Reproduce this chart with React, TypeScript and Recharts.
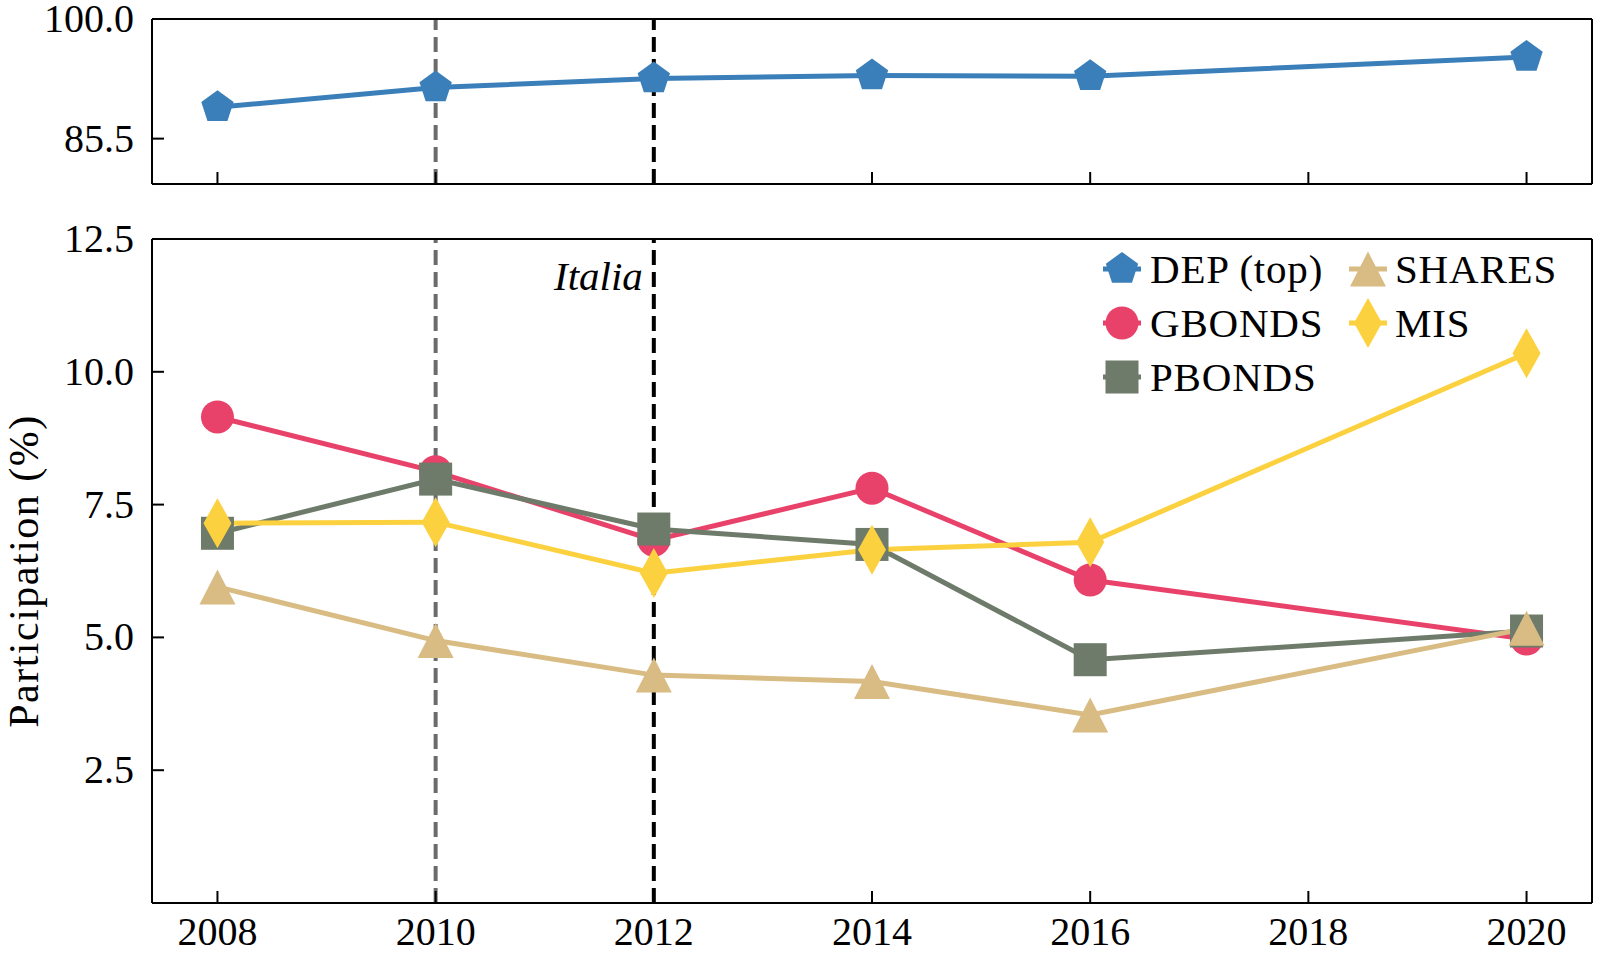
import React from 'react';
import { LineChart, Line, XAxis, YAxis, ReferenceLine } from 'recharts';

const years = [2008, 2010, 2012, 2014, 2016, 2020];
const depValues = [89.3, 91.7, 92.8, 93.15, 93.05, 95.4];
const gbondsValues = [9.15, 8.12, 6.83, 7.81, 6.08, 4.97];
const pbondsValues = [6.96, 7.98, 7.04, 6.75, 4.58, 5.12];
const sharesValues = [5.95, 4.94, 4.29, 4.17, 3.54, 5.17];
const misValues = [7.15, 7.17, 6.21, 6.65, 6.79, 10.35];
const xTicks = [2008, 2010, 2012, 2014, 2016, 2018, 2020];
const topTicks = [85.5, 100];
const bottomTicks = [2.5, 5, 7.5, 10, 12.5];
const xDomain = [2007.4, 2020.6];
const topDomain = [80, 100];
const bottomDomain = [0, 12.5];

const FONT = '"Liberation Serif", "Times New Roman", serif';
const COLORS: Record<string, string> = {
  dep: '#3a7fb9',
  gbonds: '#e8426a',
  pbonds: '#6e7a6a',
  shares: '#d9bc83',
  mis: '#fcd140',
};
const SHAPES: Record<string, string> = {
  dep: 'pentagon',
  gbonds: 'circle',
  pbonds: 'square',
  shares: 'triangle',
  mis: 'diamond',
};
const legendItems = [
  { key: 'dep', label: 'DEP (top)' },
  { key: 'gbonds', label: 'GBONDS' },
  { key: 'pbonds', label: 'PBONDS' },
  { key: 'shares', label: 'SHARES' },
  { key: 'mis', label: 'MIS' },
];

const data = years.map((y, i) => ({
  year: y,
  dep: depValues[i],
  gbonds: gbondsValues[i],
  pbonds: pbondsValues[i],
  shares: sharesValues[i],
  mis: misValues[i],
}));

function Marker({ shape, cx, cy, color }: { shape: string; cx: number; cy: number; color: string }) {
  switch (shape) {
    case 'circle':
      return <circle cx={cx} cy={cy} r={16.5} fill={color} />;
    case 'square':
      return <rect x={cx - 16.5} y={cy - 16.5} width={33} height={33} fill={color} />;
    case 'triangle':
      return (
        <polygon
          points={`${cx},${cy - 17.5} ${cx - 18},${cy + 17.5} ${cx + 18},${cy + 17.5}`}
          fill={color}
        />
      );
    case 'diamond':
      return (
        <polygon
          points={`${cx},${cy - 25} ${cx + 14},${cy} ${cx},${cy + 25} ${cx - 14},${cy}`}
          fill={color}
        />
      );
    default: {
      const R = 17;
      const pts = [0, 1, 2, 3, 4]
        .map((i) => {
          const a = ((-90 + 72 * i) * Math.PI) / 180;
          return `${cx + R * Math.cos(a)},${cy + R * Math.sin(a)}`;
        })
        .join(' ');
      return <polygon points={pts} fill={color} />;
    }
  }
}

const makeDot = (key: string) => (props: any) => (
  <Marker key={`${key}-${props.index}`} shape={SHAPES[key]} cx={props.cx} cy={props.cy} color={COLORS[key]} />
);

const YTick = (props: any) => {
  const { x, y, payload } = props;
  return (
    <g>
      <line x1={x} x2={x + 12} y1={y} y2={y} stroke="#000" strokeWidth={2} />
      <text x={x - 18} y={y + 13} textAnchor="end" fontFamily={FONT} fontSize={40} fill="#000">
        {Number(payload.value).toFixed(1)}
      </text>
    </g>
  );
};

const XTick = (props: any) => {
  const { x, y, payload } = props;
  return (
    <g>
      <line x1={x} x2={x} y1={y} y2={y - 12} stroke="#000" strokeWidth={2} />
      <text x={x} y={y + 42} textAnchor="middle" fontFamily={FONT} fontSize={40} fill="#000">
        {payload.value}
      </text>
    </g>
  );
};

const XTickNoLabel = (props: any) => {
  const { x, y } = props;
  return <line x1={x} x2={x} y1={y} y2={y - 12} stroke="#000" strokeWidth={2} />;
};

const ItaliaLabel = (props: any) => {
  const vb = props.viewBox || {};
  return (
    <text
      x={(vb.x ?? 0) - 11}
      y={(vb.y ?? 0) + 51}
      textAnchor="end"
      fontFamily={FONT}
      fontStyle="italic"
      fontSize={41}
      fill="#000"
    >
      Italia
    </text>
  );
};

const axisLine = { stroke: '#000', strokeWidth: 2 };

export default function App() {
  return (
    <div style={{ position: 'absolute', left: 0, top: 0, width: 1600, height: 953, background: '#fff' }}>
      <div style={{ position: 'absolute', left: 0, top: 0 }}>
        <LineChart width={1600} height={200} data={data} margin={{ top: 18, right: 7, bottom: 15, left: 0 }}>
          <XAxis
            dataKey="year"
            type="number"
            domain={xDomain}
            ticks={xTicks}
            interval={0}
            height={1}
            tickSize={0}
            tickMargin={0}
            tickLine={false}
            tick={XTickNoLabel}
            axisLine={axisLine}
            allowDataOverflow
          />
          <XAxis
            xAxisId="top"
            orientation="top"
            dataKey="year"
            type="number"
            domain={xDomain}
            height={1}
            tick={false}
            tickLine={false}
            axisLine={axisLine}
            allowDataOverflow
          />
          <YAxis
            type="number"
            domain={topDomain}
            ticks={topTicks}
            interval={0}
            width={152}
            tickSize={0}
            tickMargin={0}
            tickLine={false}
            tick={YTick}
            axisLine={axisLine}
            allowDataOverflow
          />
          <YAxis
            yAxisId="right"
            orientation="right"
            type="number"
            domain={topDomain}
            width={1}
            tick={false}
            tickLine={false}
            axisLine={axisLine}
            allowDataOverflow
          />
          <Line
            dataKey="dep"
            stroke={COLORS.dep}
            strokeWidth={5}
            dot={makeDot('dep')}
            activeDot={false}
            isAnimationActive={false}
          />
          <ReferenceLine x={2010} stroke="#6b6b6b" strokeWidth={4} strokeDasharray="15 7" />
          <ReferenceLine x={2012} stroke="#000" strokeWidth={4} strokeDasharray="15 7" />
        </LineChart>
      </div>
      <div style={{ position: 'absolute', left: 0, top: 200 }}>
        <LineChart width={1600} height={753} data={data} margin={{ top: 38, right: 7, bottom: 0, left: 0 }}>
          <XAxis
            dataKey="year"
            type="number"
            domain={xDomain}
            ticks={xTicks}
            interval={0}
            height={50}
            tickSize={0}
            tickMargin={0}
            tickLine={false}
            tick={XTick}
            axisLine={axisLine}
            allowDataOverflow
          />
          <XAxis
            xAxisId="top"
            orientation="top"
            dataKey="year"
            type="number"
            domain={xDomain}
            height={1}
            tick={false}
            tickLine={false}
            axisLine={axisLine}
            allowDataOverflow
          />
          <YAxis
            type="number"
            domain={bottomDomain}
            ticks={bottomTicks}
            interval={0}
            width={152}
            tickSize={0}
            tickMargin={0}
            tickLine={false}
            tick={YTick}
            axisLine={axisLine}
            allowDataOverflow
          />
          <YAxis
            yAxisId="right"
            orientation="right"
            type="number"
            domain={bottomDomain}
            width={1}
            tick={false}
            tickLine={false}
            axisLine={axisLine}
            allowDataOverflow
          />
          <Line dataKey="gbonds" stroke={COLORS.gbonds} strokeWidth={5} dot={makeDot('gbonds')} activeDot={false} isAnimationActive={false} />
          <Line dataKey="pbonds" stroke={COLORS.pbonds} strokeWidth={5} dot={makeDot('pbonds')} activeDot={false} isAnimationActive={false} />
          <Line dataKey="shares" stroke={COLORS.shares} strokeWidth={5} dot={makeDot('shares')} activeDot={false} isAnimationActive={false} />
          <Line dataKey="mis" stroke={COLORS.mis} strokeWidth={5} dot={makeDot('mis')} activeDot={false} isAnimationActive={false} />
          <ReferenceLine x={2010} stroke="#6b6b6b" strokeWidth={4} strokeDasharray="15 7" />
          <ReferenceLine x={2012} stroke="#000" strokeWidth={4} strokeDasharray="15 7" label={ItaliaLabel} />
        </LineChart>
      </div>
      <svg
        width={1600}
        height={953}
        style={{ position: 'absolute', left: 0, top: 0, pointerEvents: 'none' }}
      >
        <text
          x={38}
          y={571}
          transform="rotate(-90 38 571)"
          textAnchor="middle"
          fontFamily={FONT}
          fontSize={42}
          letterSpacing={1.5}
          fill="#000"
        >
          Participation (%)
        </text>
        {legendItems.map((item, i) => {
          const col = i < 3 ? 0 : 1;
          const row = i < 3 ? i : i - 3;
          const cx = col === 0 ? 1122 : 1368;
          const tx = col === 0 ? 1150 : 1395;
          const cy = 269 + row * 54;
          return (
            <g key={item.key}>
              <line x1={cx - 19} x2={cx + 19} y1={cy} y2={cy} stroke={COLORS[item.key]} strokeWidth={5} />
              <Marker shape={SHAPES[item.key]} cx={cx} cy={cy} color={COLORS[item.key]} />
              <text x={tx} y={cy + 14} fontFamily={FONT} fontSize={41} letterSpacing={0.8} fill="#000">
                {item.label}
              </text>
            </g>
          );
        })}
      </svg>
    </div>
  );
}
